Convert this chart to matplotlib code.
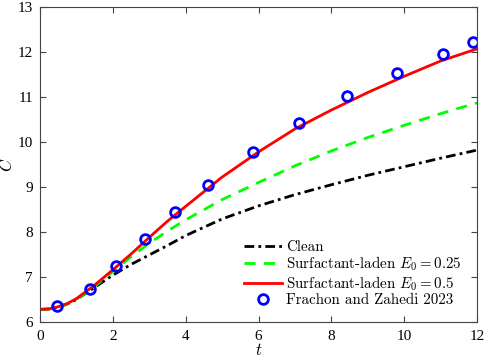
import numpy as np
import matplotlib
matplotlib.use("Agg")
import matplotlib.pyplot as plt

plt.rcParams['mathtext.fontset'] = 'cm'
plt.rcParams['font.family'] = 'Liberation Serif'

# Clean
t_clean = [0, 0.25, 0.5, 0.75, 1.0, 1.5, 2.0, 2.5, 3.0, 3.5, 4.0, 5.0, 6.0, 7.0, 8.0, 9.0, 10.0, 11.0, 12.0]
c_clean = [6.28, 6.29, 6.33, 6.40, 6.50, 6.77, 7.04, 7.28, 7.49, 7.70, 7.92, 8.29, 8.58, 8.83, 9.05, 9.26, 9.45, 9.64, 9.82]

# Surfactant-laden E0 = 0.25
t_e025 = [0, 0.25, 0.5, 0.75, 1.0, 1.5, 2.0, 2.5, 3.0, 3.5, 4.0, 5.0, 6.0, 7.0, 8.0, 9.0, 10.0, 11.0, 12.0]
c_e025 = [6.28, 6.29, 6.33, 6.40, 6.50, 6.79, 7.12, 7.45, 7.75, 8.02, 8.27, 8.72, 9.10, 9.47, 9.80, 10.10, 10.37, 10.63, 10.87]

# Surfactant-laden E0 = 0.5
t_e05 = [0, 0.25, 0.5, 0.75, 1.0, 1.5, 2.0, 2.5, 3.0, 3.5, 4.0, 5.0, 6.0, 7.0, 8.0, 9.0, 10.0, 11.0, 12.0]
c_e05 = [6.28, 6.29, 6.34, 6.41, 6.52, 6.82, 7.16, 7.51, 7.88, 8.24, 8.57, 9.22, 9.78, 10.29, 10.71, 11.10, 11.46, 11.80, 12.07]

# Frachon and Zahedi 2023
t_ref = [0.47, 1.37, 2.09, 2.87, 3.71, 4.61, 5.86, 7.12, 8.43, 9.80, 11.06, 11.89]
c_ref = [6.36, 6.73, 7.25, 7.84, 8.45, 9.04, 9.77, 10.42, 11.02, 11.53, 11.96, 12.22]

fig = plt.figure(figsize=(4.85, 3.63), dpi=100)
ax = fig.add_axes([40/485, 1-322/363, 437/485, 315/363])

ax.plot(t_clean, c_clean, color='black', lw=2, dashes=(3.5, 1.5, 1, 1.5), label='Clean')
ax.plot(t_e025, c_e025, '--', color='#00ff00', lw=2, dashes=(4, 3),
        label=r'Surfactant-laden $E_0=0.25$')
ax.plot(t_e05, c_e05, '-', color='red', lw=2, label=r'Surfactant-laden $E_0=0.5$')
ax.plot(t_ref, c_ref, 'o', mfc='none', mec='blue', mew=2, ms=7,
        label='Frachon and Zahedi 2023')

ax.set_xlim(0, 12)
ax.set_ylim(6, 13)
ax.set_xticks(np.arange(0, 13, 2))
ax.set_yticks(np.arange(6, 14, 1))
ax.tick_params(direction='in', top=True, right=True, labelsize=11,
               color='#444444', length=4)
ax.tick_params(axis='x', pad=6)
ax.tick_params(axis='y', pad=5)
for s in ax.spines.values():
    s.set_color('#444444')
    s.set_linewidth(0.8)

ax.set_xlabel(r'$t$', fontsize=12)
ax.set_ylabel(r'$C$', fontsize=12)
ax.xaxis.set_label_coords(0.5, -0.068)
ax.yaxis.set_label_coords(-0.054, 0.5)

leg = ax.legend(loc='lower right', frameon=False, handlelength=2.5,
                handletextpad=0.3, labelspacing=0.05, borderaxespad=0.6,
                prop={'family': 'cmr10', 'size': 10.8})

fig.savefig('out.png', dpi=100)
